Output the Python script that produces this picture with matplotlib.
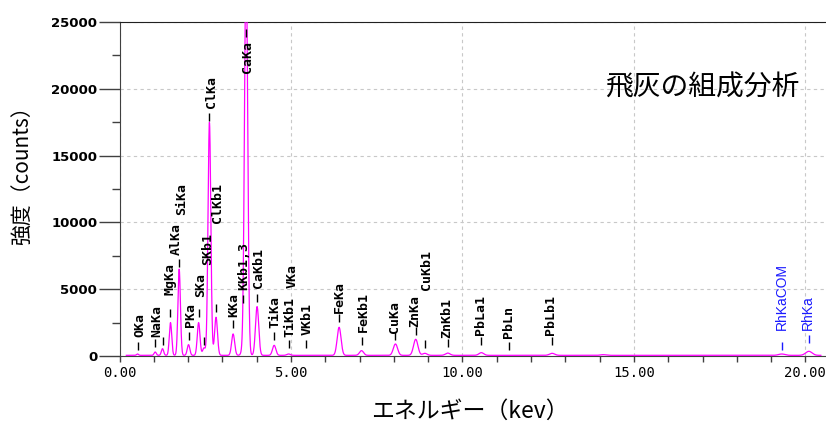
import numpy as np
import matplotlib.pyplot as plt
from matplotlib.ticker import MultipleLocator, FuncFormatter

# peaks (keV, counts at peak top)
peak_kev = [0.525, 1.041, 1.254, 1.487, 1.740, 2.013, 2.307, 2.464, 2.622, 2.815,
            3.313, 3.589, 3.691, 4.012, 4.510, 4.931, 6.403, 7.057, 8.046, 8.637,
            8.904, 9.571, 10.551, 12.614, 14.10, 19.31, 20.10]
peak_counts = [150, 300, 550, 2500, 6500, 850, 2500, 600, 17500, 2900,
               1650, 300, 30000, 3700, 800, 150, 2150, 400, 900, 1250,
               200, 220, 250, 200, 100, 150, 350]
background = 50

# element line markers
line_names = ["OKa", "NaKa", "MgKa", "AlKa", "SiKa", "PKa", "SKa", "SKb1", "ClKa", "ClKb1",
              "KKa", "KKb1,3", "CaKa", "CaKb1", "TiKa", "TiKb1", "VKa", "VKb1", "FeKa", "FeKb1",
              "CuKa", "ZnKa", "CuKb1", "ZnKb1", "PbLa1", "PbLn", "PbLb1", "RhKaCOM", "RhKa"]
line_kev = [0.525, 1.041, 1.254, 1.487, 1.740, 2.013, 2.307, 2.464, 2.622, 2.815,
            3.313, 3.589, 3.691, 4.012, 4.510, 4.931, 4.952, 5.427, 6.403, 7.057,
            8.046, 8.637, 8.904, 9.571, 10.551, 11.349, 12.614, 19.31, 20.10]
# where the little marker dash sits (counts) and where the label text starts
dash_counts = [450, 670, 820, 2900, 6640, 1190, 2900, 820, 17600, 3280,
               2090, 3950, 23900, 4030, 1190, 600, None, 600, 2540, 820,
               1190, 1570, 600, 670, 820, 450, 820, 450, 970]
text_kev = [0.60, 1.09, 1.47, 1.65, 1.82, 2.06, 2.38, 2.58, 2.67, 2.87,
            3.34, 3.63, 3.72, 4.04, 4.53, 4.97, 5.03, 5.47, 6.40, 7.10,
            8.03, 8.61, 8.94, 9.55, 10.54, 11.33, 12.58, 19.31, 20.07]
text_counts = [1420, 1420, 4550, 7530, 10520, 2160, 4400, 6790, 18580, 9920,
               2910, 4920, 21190, 5070, 2090, 1420, 5070, 1570, 3210, 1790,
               1720, 2160, 4920, 1340, 1570, 1340, 1570, 1940, 1940]
blue_lines = ["RhKaCOM", "RhKa"]

energy = np.linspace(0.2, 20.45, 4000)
spectrum = np.full_like(energy, background, dtype=float)
for e, h in zip(peak_kev, peak_counts):
    s = np.sqrt(0.025 ** 2 + 0.0004 * e)
    spectrum += (h - background) * np.exp(-0.5 * ((energy - e) / s) ** 2)

fig = plt.figure(figsize=(8.26, 4.23), dpi=100)
ax = fig.add_axes([119.5 / 826, 1 - 356 / 423, (826 - 119.5) / 826, 334 / 423])

ax.plot(energy, spectrum, color="#ff00ff", lw=0.9, zorder=3)

ax.set_xlim(0, 20.6)
ax.set_ylim(0, 25000)
ax.xaxis.set_major_locator(MultipleLocator(5))
ax.xaxis.set_minor_locator(MultipleLocator(1))
ax.yaxis.set_major_locator(MultipleLocator(5000))
ax.yaxis.set_minor_locator(MultipleLocator(2500))
ax.xaxis.set_major_formatter(FuncFormatter(lambda v, p: f"{v:.2f}"))
ax.yaxis.set_major_formatter(FuncFormatter(lambda v, p: f"{int(v)}"))

ax.grid(True, which="major", color="#c8c8c8", linestyle=(0, (3, 3)), linewidth=0.8, zorder=0)
ax.tick_params(axis="x", which="both", direction="out", length=4, width=1, color="#404040",
               pad=3, labelsize=10)
ax.tick_params(axis="y", which="major", direction="out", length=15, width=1, color="#404040",
               pad=1, labelsize=9.5)
ax.tick_params(axis="y", which="minor", direction="out", length=6, width=1, color="#404040")
for lab in ax.get_xticklabels():
    lab.set_fontfamily("DejaVu Sans Mono")
for lab in ax.get_yticklabels():
    lab.set_fontfamily("DejaVu Sans")
    lab.set_fontweight("bold")

ax.spines["right"].set_visible(False)
ax.spines["left"].set_color("#404040")
ax.spines["bottom"].set_color("#404040")
ax.spines["top"].set_color("#202020")

for name, e, dc, tx, tc in zip(line_names, line_kev, dash_counts, text_kev, text_counts):
    if name in blue_lines:
        col = "#1a1aff"
        ax.text(tx, tc, name, rotation=90, ha="center", va="bottom", color=col,
                fontsize=10, fontfamily="Liberation Sans", zorder=4)
    else:
        col = "black"
        ax.text(tx, tc, name, rotation=90, ha="center", va="bottom", color=col,
                fontsize=9.5, fontfamily="DejaVu Sans Mono", fontweight="bold", zorder=4)
    if dc is not None:
        ax.vlines(e, dc, dc + 600, color=col, lw=1, zorder=4)

fig.text(702 / 826, 1 - 88 / 423, "飛灰の組成分析", ha="center", va="center",
         fontsize=20, fontfamily="Noto Sans CJK JP")
fig.text(23 / 826, 1 - 170 / 423, "強度（counts）", ha="center", va="center", rotation=90,
         fontsize=15, fontfamily="Noto Sans CJK JP")
fig.text(470 / 826, 1 - 411 / 423, "エネルギー（kev）", ha="center", va="center",
         fontsize=16.5, fontfamily="Noto Sans CJK JP")

fig.savefig("out.png", dpi=100)
